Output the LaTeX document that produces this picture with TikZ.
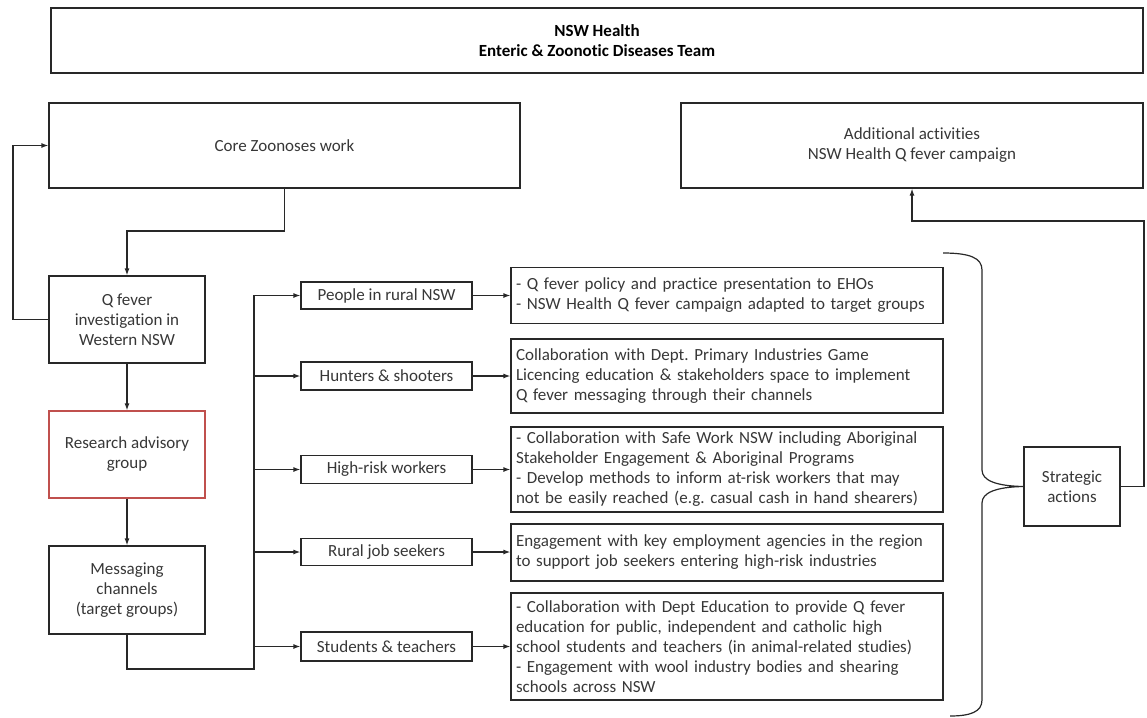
\documentclass[tikz,border=0pt]{standalone}
\usepackage{fontspec}
\setmainfont{Carlito}[Ligatures=NoCommon]
\usetikzlibrary{arrows.meta}
\definecolor{redb}{RGB}{192,80,77}
\definecolor{txtc}{RGB}{55,55,55}
\definecolor{linec}{RGB}{40,40,40}
\frenchspacing
\tikzset{
  bx/.style={draw=linec, line width=1.2pt, inner sep=0pt, align=center, text=txtc,
             font=\fontsize{17}{20}\selectfont},
  lb/.style={bx, align=left, inner xsep=5pt, text width=#1},
  arr/.style={draw=linec, line width=1.2pt, -{Latex[length=7pt,width=5pt]}},
  ln/.style={draw=linec, line width=1.2pt}
}
\begin{document}
\begin{tikzpicture}[x=1pt,y=-1pt]
\useasboundingbox (0,0) rectangle (1147,717);
% top
\node[bx, minimum width=1092pt, minimum height=65pt, text=black] (top) at (597,40.5)
  {\bfseries NSW Health\\\bfseries Enteric \& Zoonotic Diseases Team};
\node[bx, minimum width=471pt, minimum height=85pt] (core) at (284.5,145.5) {Core Zoonoses work};
\node[bx, minimum width=462pt, minimum height=85pt] (add) at (912,145.5) {Additional activities\\NSW Health Q fever campaign};
% left column
\node[bx, minimum width=156pt, minimum height=87pt] (qf) at (127,319.5) {Q fever\\investigation in\\Western NSW};
\node[bx, draw=redb, minimum width=156pt, minimum height=87pt] (rag) at (127,454.5) {Research advisory\\group};
\node[bx, minimum width=156pt, minimum height=88pt] (msg) at (127,590) {Messaging\\channels\\(target groups)};
% groups
\node[bx, minimum width=171pt, minimum height=27pt] (g1) at (386.5,295.5) {People in rural NSW};
\node[bx, minimum width=171pt, minimum height=28pt] (g2) at (386.5,376) {Hunters \& shooters};
\node[bx, minimum width=171pt, minimum height=28pt] (g3) at (386.5,469.5) {High-risk workers};
\node[bx, minimum width=171pt, minimum height=27pt] (g4) at (386.5,552) {Rural job seekers};
\node[bx, minimum width=171pt, minimum height=29pt] (g5) at (386.5,646.5) {Students \& teachers};
% actions
\node[lb=422pt, minimum height=56pt] (a1) at (727,295.5)
  {- Q fever policy and practice presentation to EHOs\\- NSW Health Q fever campaign adapted to target groups};
\node[lb=422pt, minimum height=74pt] (a2) at (727,376)
  {Collaboration with Dept. Primary Industries Game\\Licencing education \& stakeholders space to implement\\Q fever messaging through their channels};
\node[lb=422pt, minimum height=85pt] (a3) at (727,469.5)
  {- Collaboration with Safe Work NSW including Aboriginal\\Stakeholder Engagement \& Aboriginal Programs\\- Develop methods to inform at-risk workers that may\\not be easily reached (e.g. casual cash in hand shearers)};
\node[lb=422pt, minimum height=57pt] (a4) at (727,552.5)
  {Engagement with key employment agencies in the region\\to support job seekers entering high-risk industries};
\node[lb=422pt, minimum height=107pt] (a5) at (727,646.5)
  {- Collaboration with Dept Education to provide Q fever\\education for public, independent and catholic high\\school students and teachers (in animal-related studies)\\- Engagement with wool industry bodies and shearing\\schools across NSW};
\node[bx, minimum width=96pt, minimum height=79pt] (sa) at (1072,486.5) {Strategic\\actions};
% coordinates
\coordinate (c1) at (284.5,231);
\coordinate (loop) at (13,319.5);
\coordinate (busb) at (254,669);
\coordinate (rt) at (1144,221);
% connectors
\draw[arr] (core.south) -- (c1) -| (qf.north);
\draw[arr] (qf.west) -- (loop) |- (core.west);
\draw[arr] (qf.south) -- (rag.north);
\draw[arr] (rag.south) -- (msg.north);
\draw[arr] (msg.south) |- (busb) |- (g1.west);
\draw[arr] (busb |- g2.west) -- (g2.west);
\draw[arr] (busb |- g3.west) -- (g3.west);
\draw[arr] (busb |- g4.west) -- (g4.west);
\draw[arr] (busb |- g5.west) -- (g5.west);
\draw[arr] (g1.east) -- (a1.west |- g1.east);
\draw[arr] (g2.east) -- (a2.west |- g2.east);
\draw[arr] (g3.east) -- (a3.west |- g3.east);
\draw[arr] (g4.east) -- (a4.west |- g4.east);
\draw[arr] (g5.east) -- (a5.west |- g5.east);
\draw[arr] (sa.east) -| (rt) -| (add.south);
% brace
\draw[ln] (943,253) .. controls (970,253) and (982,258) .. (982,270) -- (982,470)
  .. controls (982,480) and (995,486) .. (sa.west)
  .. controls (995,487) and (982,493) .. (982,503) -- (982,700)
  .. controls (982,712) and (970,716) .. (950,716);
\end{tikzpicture}
\end{document}
